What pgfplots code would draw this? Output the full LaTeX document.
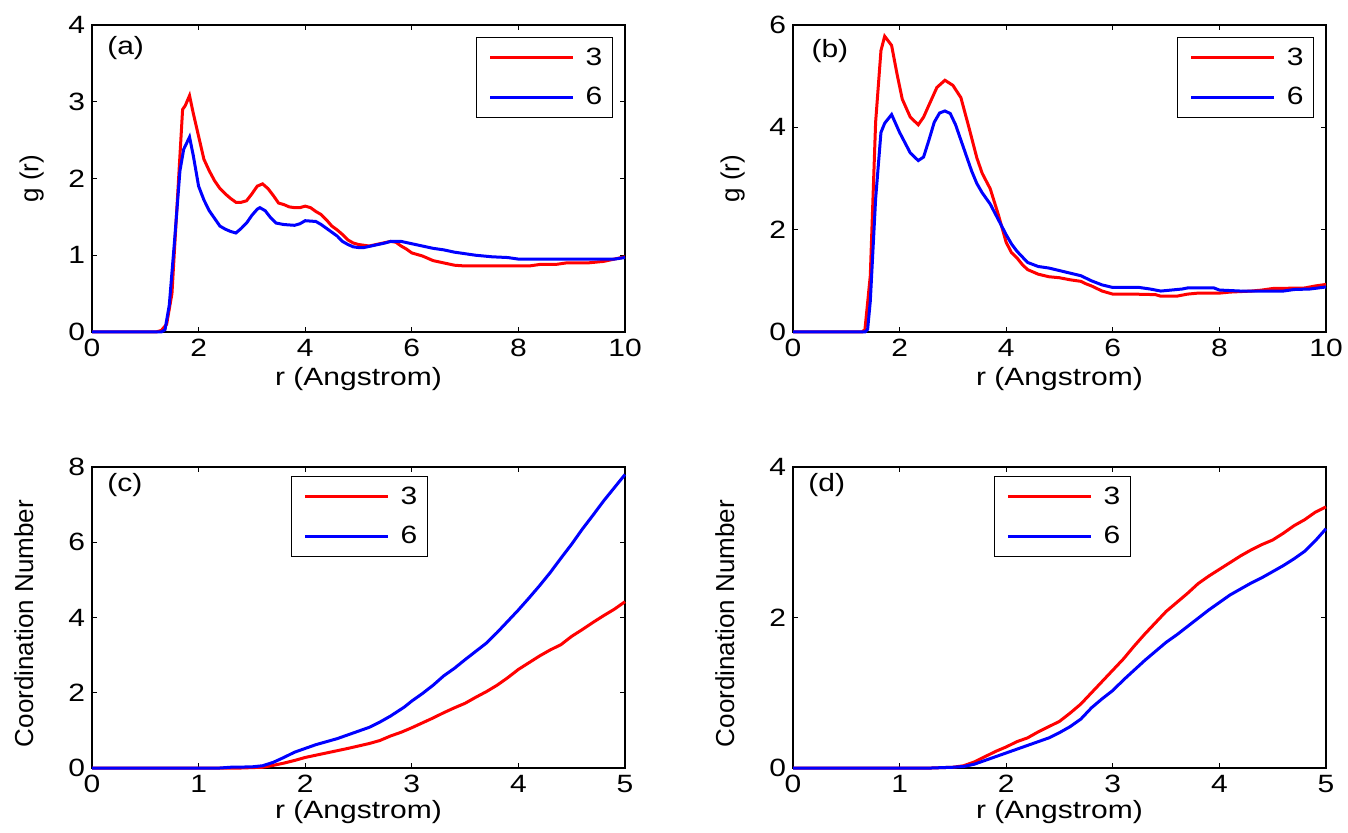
\documentclass[border=0pt]{standalone}
\usepackage{pgfplots}
\pgfplotsset{compat=1.18}
\usepackage{fontspec}
\setmainfont{Liberation Sans}[FakeStretch=1.2]
\newfontfamily\ylfont{Liberation Sans}
\definecolor{mred}{RGB}{255,0,0}
\definecolor{mblue}{RGB}{0,0,255}
\newcommand{\tfont}{\fontsize{12.5bp}{15bp}\selectfont}
\newcommand{\yfont}{\ylfont\fontsize{13bp}{15bp}\selectfont}

\pgfplotstableread{
x y
0 0
1.2 0
1.3 0.02
1.4 0.1
1.5 0.5
1.6 1.7
1.7 2.9
1.75 2.95
1.83 3.08
1.9 2.85
2.0 2.55
2.1 2.25
2.2 2.1
2.3 1.97
2.4 1.87
2.5 1.8
2.6 1.74
2.7 1.69
2.8 1.69
2.9 1.71
3.0 1.8
3.1 1.9
3.2 1.93
3.3 1.87
3.4 1.78
3.5 1.68
3.6 1.66
3.7 1.63
3.8 1.62
3.9 1.62
4.0 1.64
4.1 1.62
4.2 1.57
4.3 1.53
4.4 1.46
4.5 1.38
4.6 1.33
4.7 1.27
4.8 1.2
4.9 1.16
5.0 1.14
5.2 1.12
5.4 1.15
5.6 1.18
5.7 1.17
5.8 1.12
5.9 1.08
6.0 1.03
6.2 0.99
6.4 0.93
6.6 0.9
6.8 0.87
7.0 0.86
7.5 0.86
8.0 0.86
8.2 0.86
8.4 0.88
8.7 0.88
8.9 0.9
9.3 0.9
9.6 0.92
9.8 0.95
10 0.98
}\tabAred
\pgfplotstableread{
x y
0 0
1.3 0
1.37 0.03
1.45 0.35
1.55 1.2
1.65 2.1
1.72 2.38
1.83 2.54
1.9 2.3
2.0 1.9
2.1 1.72
2.2 1.58
2.3 1.48
2.4 1.38
2.5 1.34
2.6 1.31
2.7 1.29
2.8 1.35
2.9 1.42
3.0 1.52
3.1 1.6
3.15 1.62
3.25 1.58
3.35 1.49
3.45 1.42
3.6 1.4
3.8 1.39
3.9 1.41
4.0 1.45
4.2 1.44
4.3 1.40
4.5 1.30
4.6 1.25
4.7 1.18
4.8 1.14
4.9 1.11
5.0 1.10
5.1 1.10
5.3 1.13
5.5 1.16
5.6 1.18
5.8 1.18
6.0 1.15
6.2 1.12
6.4 1.09
6.6 1.07
6.8 1.04
7.0 1.02
7.2 1.0
7.5 0.98
7.8 0.97
8.0 0.95
9.0 0.95
9.5 0.95
9.8 0.95
10 0.97
}\tabAblue
\pgfplotstableread{
x y
0 0
1.3 0
1.35 0.05
1.45 1.1
1.55 4.1
1.65 5.5
1.72 5.78
1.85 5.6
1.95 5.05
2.05 4.55
2.2 4.2
2.35 4.05
2.45 4.2
2.6 4.55
2.7 4.78
2.85 4.92
3.0 4.82
3.15 4.58
3.3 4.0
3.45 3.4
3.55 3.1
3.7 2.8
3.85 2.3
4.0 1.75
4.1 1.55
4.2 1.45
4.3 1.32
4.4 1.22
4.6 1.13
4.8 1.08
5.0 1.06
5.2 1.02
5.4 0.99
5.5 0.94
5.6 0.9
5.7 0.85
5.8 0.8
6.0 0.74
6.4 0.74
6.8 0.73
6.9 0.7
7.2 0.7
7.4 0.74
7.6 0.76
8.0 0.76
8.2 0.78
8.6 0.8
8.8 0.82
9.0 0.85
9.6 0.86
9.8 0.9
10 0.93
}\tabBred
\pgfplotstableread{
x y
0 0
1.35 0
1.4 0.05
1.45 0.6
1.55 2.6
1.65 3.9
1.72 4.08
1.85 4.25
2.0 3.9
2.1 3.7
2.2 3.5
2.35 3.35
2.45 3.42
2.55 3.75
2.65 4.1
2.75 4.28
2.85 4.32
2.95 4.27
3.05 4.05
3.2 3.6
3.35 3.15
3.45 2.9
3.55 2.72
3.7 2.5
3.85 2.2
4.0 1.9
4.1 1.72
4.2 1.58
4.4 1.36
4.6 1.28
4.8 1.25
5.0 1.2
5.2 1.15
5.4 1.1
5.6 1.0
5.8 0.92
6.0 0.87
6.5 0.87
6.7 0.84
6.9 0.8
7.1 0.82
7.3 0.84
7.4 0.86
7.9 0.86
8.0 0.82
8.4 0.8
9.2 0.8
9.4 0.83
9.7 0.84
10 0.88
}\tabBblue
\pgfplotstableread{
x y
0 0
1.4 0
1.6 0.02
1.7 0.07
1.8 0.13
1.9 0.2
2.0 0.28
2.2 0.4
2.4 0.52
2.6 0.65
2.7 0.73
2.8 0.85
2.9 0.95
3.0 1.07
3.1 1.2
3.2 1.33
3.3 1.47
3.4 1.6
3.5 1.72
3.6 1.88
3.7 2.03
3.8 2.2
3.9 2.4
4.0 2.62
4.1 2.8
4.2 2.98
4.3 3.14
4.4 3.28
4.5 3.5
4.6 3.68
4.7 3.87
4.8 4.05
4.9 4.22
5.0 4.42
}\tabCred
\pgfplotstableread{
x y
0 0
1.2 0
1.3 0.02
1.5 0.03
1.6 0.06
1.7 0.15
1.8 0.28
1.9 0.42
2.0 0.52
2.1 0.62
2.2 0.7
2.3 0.78
2.4 0.88
2.5 0.98
2.6 1.08
2.7 1.22
2.8 1.38
2.93 1.62
3.0 1.78
3.1 1.98
3.2 2.2
3.3 2.45
3.4 2.65
3.5 2.88
3.6 3.1
3.7 3.32
3.8 3.6
3.9 3.9
4.0 4.2
4.1 4.52
4.2 4.85
4.3 5.2
4.4 5.58
4.5 5.95
4.6 6.35
4.7 6.72
4.8 7.1
4.9 7.45
5.0 7.8
}\tabCblue
\pgfplotstableread{
x y
0 0
1.3 0
1.5 0.01
1.6 0.03
1.7 0.08
1.8 0.15
1.9 0.22
2.0 0.28
2.1 0.35
2.2 0.4
2.3 0.48
2.4 0.55
2.5 0.62
2.6 0.73
2.7 0.85
2.8 1.0
2.9 1.15
3.0 1.3
3.1 1.45
3.2 1.62
3.3 1.78
3.4 1.93
3.5 2.08
3.6 2.2
3.7 2.32
3.8 2.45
3.9 2.55
4.0 2.64
4.1 2.73
4.2 2.82
4.3 2.9
4.4 2.97
4.5 3.03
4.6 3.12
4.7 3.22
4.8 3.3
4.9 3.4
5.0 3.47
}\tabDred
\pgfplotstableread{
x y
0 0
1.3 0
1.5 0.01
1.6 0.02
1.7 0.05
1.8 0.1
1.9 0.15
2.0 0.2
2.1 0.25
2.2 0.3
2.3 0.35
2.4 0.4
2.5 0.47
2.6 0.55
2.7 0.65
2.8 0.8
2.9 0.92
3.0 1.03
3.1 1.17
3.2 1.3
3.3 1.43
3.4 1.55
3.5 1.67
3.6 1.77
3.7 1.88
3.8 1.99
3.9 2.1
4.0 2.2
4.1 2.3
4.2 2.38
4.3 2.46
4.4 2.53
4.5 2.61
4.6 2.69
4.7 2.78
4.8 2.88
4.9 3.02
5.0 3.18
}\tabDblue

\pgfplotsset{
  mlax/.style={
    scale only axis,
    width=266.5bp,
    anchor=south west,
    xmin=0,
    clip=false,
    axis line style={line width=0.8bp, black},
    tick style={line width=0.6bp, black},
    major tick length=2.5bp,
    tick align=inside,
    tick pos=both,
    minor tick num=0,
    /pgf/number format/assume math mode=true,
    tick label style={font=\tfont},
    label style={font=\tfont},
    ylabel style={font=\yfont},
    legend cell align=left,
    legend image code/.code={\path (-3bp,0bp) (45bp,0bp); \draw[##1] (0bp,0bp) -- (41.5bp,0bp);},
    every axis plot/.append style={line width=1.5bp},
  },
  legst/.style={draw=black, line width=0.6bp, inner xsep=3bp, inner ysep=3bp, row sep=5.5bp, font=\tfont},
}

\begin{document}
\begin{tikzpicture}
\path[use as bounding box] (0,0) rectangle (674bp,416.5bp);

% (a)
\begin{axis}[mlax, at={(46bp,250.5bp)}, height=153.5bp,
  xmax=10, ymin=0, ymax=4, xtick={0,2,...,10}, ytick={0,1,2,3,4},
  xlabel={r (Angstrom)}, ylabel={g (r)},
  xlabel style={at={(axis description cs:0.5,-0.153)}, anchor=center},
  ylabel style={at={(axis description cs:-0.113,0.5)}, anchor=center},
  legend style={legst, at={(rel axis cs:0.9775,0.961)}, anchor=north east}]
\addplot[color=mred] table[x=x,y=y] {\tabAred};
\addplot[color=mblue] table[x=x,y=y] {\tabAblue};
\legend{3,6}
\node[anchor=west, font=\tfont, inner sep=0pt] at (rel axis cs:0.028,0.925) {(a)};
\end{axis}

% (b)
\begin{axis}[mlax, at={(396.5bp,250.5bp)}, height=153.5bp,
  xmax=10, ymin=0, ymax=6, xtick={0,2,...,10}, ytick={0,2,4,6},
  xlabel={r (Angstrom)}, ylabel={g (r)},
  xlabel style={at={(axis description cs:0.5,-0.153)}, anchor=center},
  ylabel style={at={(axis description cs:-0.113,0.5)}, anchor=center},
  legend style={legst, at={(rel axis cs:0.9775,0.961)}, anchor=north east}]
\addplot[color=mred] table[x=x,y=y] {\tabBred};
\addplot[color=mblue] table[x=x,y=y] {\tabBblue};
\legend{3,6}
\node[anchor=west, font=\tfont, inner sep=0pt] at (rel axis cs:0.034,0.915) {(b)};
\end{axis}

% (c)
\begin{axis}[mlax, at={(46bp,32.5bp)}, height=150.5bp,
  xmax=5, ymin=0, ymax=8, xtick={0,1,...,5}, ytick={0,2,4,6,8},
  xlabel={r (Angstrom)}, ylabel={Coordination Number},
  xlabel style={at={(axis description cs:0.5,-0.146)}, anchor=center},
  ylabel style={at={(axis description cs:-0.128,0.48)}, anchor=center},
  legend style={legst, at={(rel axis cs:0.630,0.970)}, anchor=north east}]
\addplot[color=mred] table[x=x,y=y] {\tabCred};
\addplot[color=mblue] table[x=x,y=y] {\tabCblue};
\legend{3,6}
\node[anchor=west, font=\tfont, inner sep=0pt] at (rel axis cs:0.028,0.940) {(c)};
\end{axis}

% (d)
\begin{axis}[mlax, at={(396.5bp,32.5bp)}, height=150.5bp,
  xmax=5, ymin=0, ymax=4, xtick={0,1,...,5}, ytick={0,2,4},
  xlabel={r (Angstrom)}, ylabel={Coordination Number},
  xlabel style={at={(axis description cs:0.5,-0.146)}, anchor=center},
  ylabel style={at={(axis description cs:-0.128,0.48)}, anchor=center},
  legend style={legst, at={(rel axis cs:0.634,0.970)}, anchor=north east}]
\addplot[color=mred] table[x=x,y=y] {\tabDred};
\addplot[color=mblue] table[x=x,y=y] {\tabDblue};
\legend{3,6}
\node[anchor=west, font=\tfont, inner sep=0pt] at (rel axis cs:0.028,0.940) {(d)};
\end{axis}
\end{tikzpicture}
\end{document}
